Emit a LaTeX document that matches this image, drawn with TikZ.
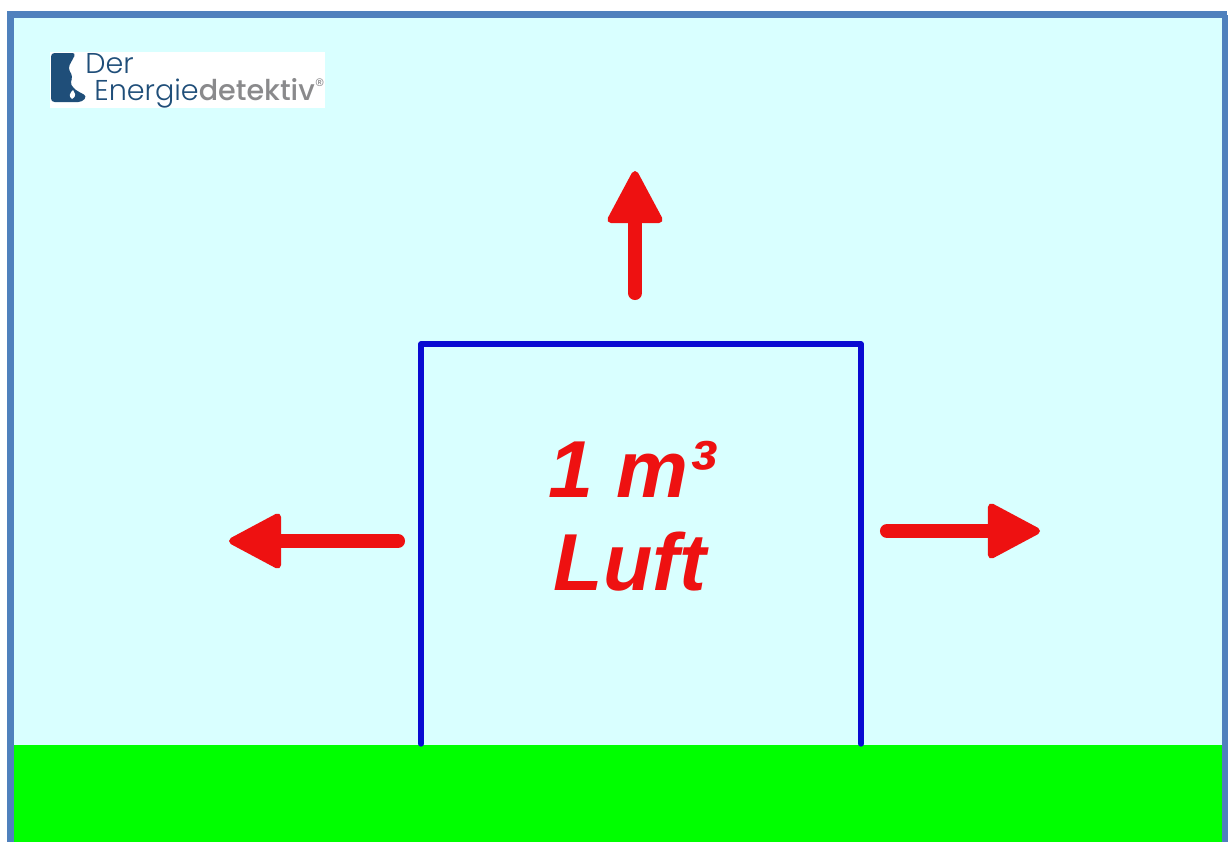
\documentclass[tikz,border=0pt]{standalone}
\usepackage{xcolor}
\usepackage{fontspec}
\usetikzlibrary{arrows.meta,positioning,calc}
\setmainfont{Liberation Sans}
\newfontfamily\logofont{Poppins Light}[BoldFont=Poppins Medium]
\definecolor{skyfill}{HTML}{D9FFFF}
\definecolor{framecol}{HTML}{4F81BD}
\definecolor{grassfill}{HTML}{00FF00}
\definecolor{airred}{HTML}{EE1111}
\definecolor{boxblue}{HTML}{0A0AD2}
\definecolor{logoblue}{HTML}{1F4E79}
\definecolor{logogray}{HTML}{8A8A8C}

\begin{document}
\begin{tikzpicture}[
    x=0.02cm, y=-0.02cm,
    label/.style={
        text=airred,
        font=\fontsize{46}{46}\selectfont\bfseries\itshape,
        anchor=base,
        inner sep=0pt
    },
    logotext/.style={
        anchor=base west,
        inner sep=0pt,
        text=logoblue,
        font=\fontsize{16.3}{16.3}\selectfont\logofont
    },
    arrow/.style={
        draw=airred,
        line width=8pt,
        line cap=round,
        -{Triangle[length=32pt,width=33pt,round,line width=4pt]}
    },
    wall/.style={draw=boxblue, line width=3pt, line cap=round, line join=round}
]
\useasboundingbox (0,0) rectangle (1228,842);
\fill[white] (0,0) rectangle (1228,842);
\fill[skyfill] (14,18) rectangle (1224,745);
\fill[grassfill] (14,745) rectangle (1224,842);
\draw[framecol, line width=4pt] (10.5,842) -- (10.5,14.5) -- (1227,14.5);
\draw[framecol, line width=4pt] (1226,14.5) -- (1226,842);

% logo
\fill[white] (50,52) rectangle (325,108);
\fill[logoblue, rounded corners=2pt] (51,53) -- (76,53) -- (68,68) -- (73,77) -- (70,82)
    -- (73,88) -- (79,92) -- (87,96) -- (82,102) -- (51,102) -- cycle;
\fill[white] (72,99) .. controls (68,96) and (70,93) .. (73,90)
    .. controls (74,93) and (78,95) .. (72,99) -- cycle;
\node[logotext] (der) at (85,73) {Der};
\node[logotext] (energie) at (94,100)
    {Energie\textcolor{logogray}{\textbf{detektiv}}\raisebox{4pt}{\fontsize{11}{11}\selectfont\textcolor{logogray}{®}}};

% box
\coordinate (wallbl) at (421,744);
\coordinate (walltl) at (421,344);
\coordinate (walltr) at (861,344);
\coordinate (wallbr) at (861,744);
\draw[wall] (wallbl) -- (walltl) -- (walltr) -- (wallbr);

\node[label] (volume) at (632,497) {1 m³};
\node[label] (air) at (630,590) {Luft};

% pressure arrows
\coordinate (upstart) at (635,293);
\coordinate (uptip) at (635,171);
\coordinate (leftstart) at (398,541);
\coordinate (lefttip) at (229,541);
\coordinate (rightstart) at (887,531);
\coordinate (righttip) at (1040,531);
\draw[arrow] (upstart) -- (uptip);
\draw[arrow] (leftstart) -- (lefttip);
\draw[arrow] (rightstart) -- (righttip);
\end{tikzpicture}
\end{document}
